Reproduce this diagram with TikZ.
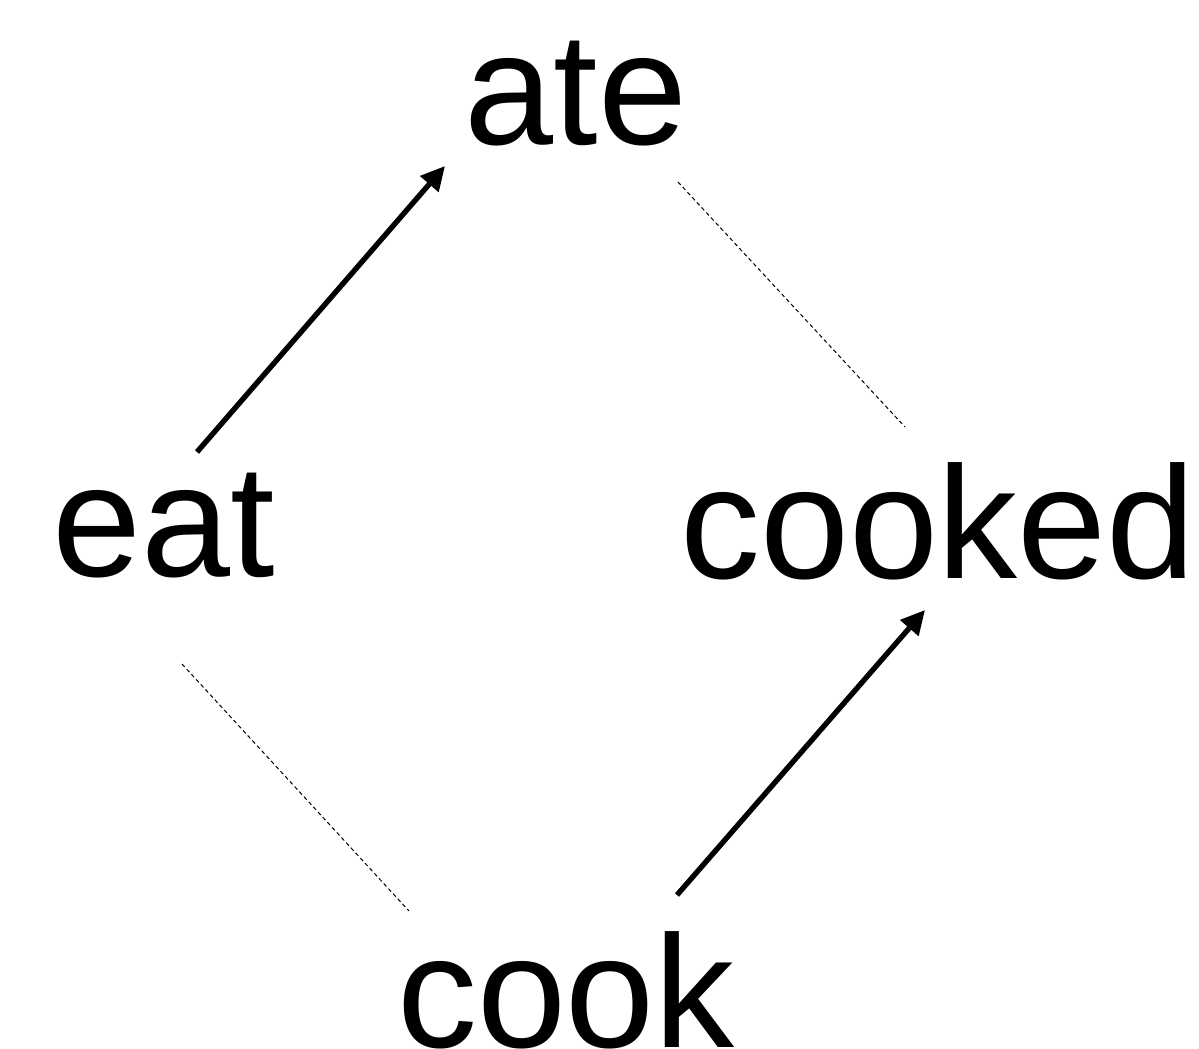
\documentclass[tikz,border=0pt]{standalone}
\usepackage{fontspec}
\setmainfont{Liberation Sans}
\usetikzlibrary{arrows.meta}
\begin{document}
\begin{tikzpicture}[x=0.75pt,y=-0.75pt,
  word/.style={inner sep=0pt,anchor=base,font=\fontsize{120}{144}\selectfont},
  link/.style={line width=4pt,-{Triangle[length=18pt,width=17.5pt]}},
  pair/.style={line width=0.75pt,dash pattern=on 3pt off 2.2pt}]
\useasboundingbox (0,0) rectangle (1199,1049);
\node[word] (ate)    at (576,144)  {ate};
\node[word] (eat)    at (164,576)  {eat};
\node[word] (cooked) at (938,578)  {cooked};
\node[word] (cook)   at (566,1047) {cook};
% verb inflection arrows
\draw[link] ([shift={(33,-124)}]eat.base) -- ([shift={(-131,22)}]ate.base);
\draw[link] ([shift={(111,-152)}]cook.base) -- ([shift={(-13,32)}]cooked.base);
% analogy correspondences
\draw[pair] ([shift={(102,38)}]ate.base) -- ([shift={(-33,-151)}]cooked.base);
\draw[pair] ([shift={(18,88)}]eat.base) -- ([shift={(-157,-136)}]cook.base);
\end{tikzpicture}
\end{document}
